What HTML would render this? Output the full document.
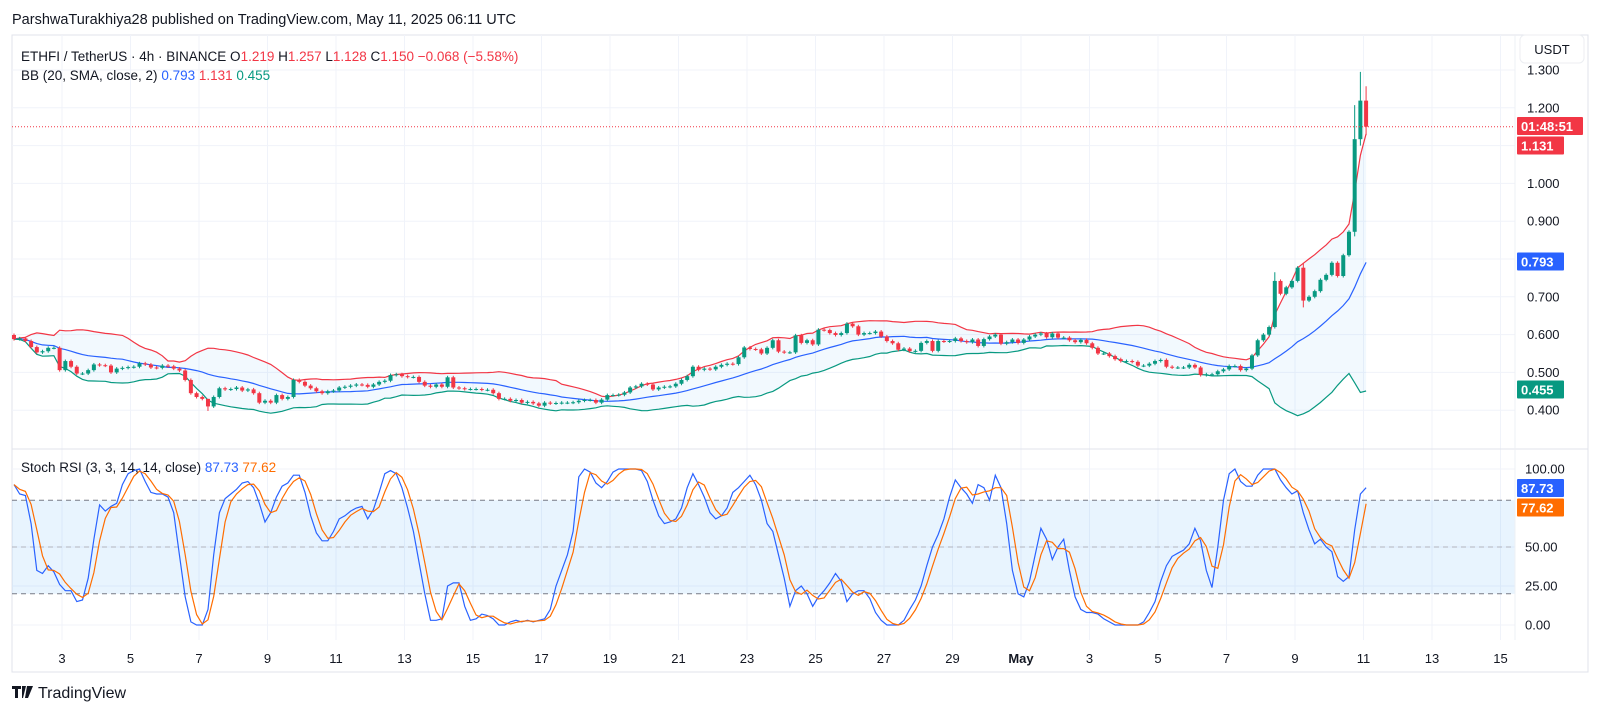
<!DOCTYPE html>
<html><head><meta charset="utf-8"><style>
html,body{margin:0;padding:0;background:#fff;}
svg{display:block;font-family:"Liberation Sans",sans-serif;}
</style></head><body>
<svg id="chart" width="1600" height="712" viewBox="0 0 1600 712" xmlns="http://www.w3.org/2000/svg">
<text x="12" y="24" font-size="14.5" fill="#131722">ParshwaTurakhiya28 published on TradingView.com, May 11, 2025 06:11 UTC</text>
<rect x="12" y="35" width="1576" height="637" fill="#fff" stroke="#e0e3eb"/>
<g id="grid"></g>
<g id="main"></g>
<g id="stoch"></g>
<line x1="12" y1="449" x2="1588" y2="449" stroke="#e0e3eb"/>
<line x1="1515" y1="35" x2="1515" y2="640" stroke="#eef0f4"/>
<g id="axes"></g>
<g font-size="13.5">
<text x="21" y="61"><tspan fill="#131722">ETHFI / TetherUS · 4h · BINANCE  O</tspan><tspan fill="#f23645">1.219</tspan><tspan fill="#131722">  H</tspan><tspan fill="#f23645">1.257</tspan><tspan fill="#131722">  L</tspan><tspan fill="#f23645">1.128</tspan><tspan fill="#131722">  C</tspan><tspan fill="#f23645">1.150  −0.068 (−5.58%)</tspan></text>
<text x="21" y="80"><tspan fill="#131722">BB (20, SMA, close, 2)  </tspan><tspan fill="#2962ff">0.793</tspan><tspan fill="#f23645">  1.131</tspan><tspan fill="#089981">  0.455</tspan></text>
<text x="21" y="472"><tspan fill="#131722">Stoch RSI (3, 3, 14, 14, close)  </tspan><tspan fill="#2962ff">87.73</tspan><tspan fill="#ff6d00">  77.62</tspan></text>
</g>
<g>
<rect x="1520" y="35" width="64" height="28" rx="5" fill="#fff" stroke="#eceef2"/>
<text x="1552" y="54" font-size="13" fill="#131722" text-anchor="middle">USDT</text>
</g>
<g>
<path d="M12 686h9v3h-3v9h-3v-9h-3z M22 686h4l-3 12h-1z M27 686h6l-5 12h-3z" fill="#131722"/>
<text x="38" y="698" font-size="16" fill="#131722">TradingView</text>
</g>
</svg>
<script>
const closes=[0.588,0.590,0.583,0.567,0.553,0.556,0.565,0.565,0.506,0.530,0.515,0.497,0.497,0.506,0.521,0.519,0.518,0.500,0.510,0.512,0.514,0.515,0.524,0.521,0.513,0.512,0.518,0.516,0.510,0.505,0.480,0.445,0.435,0.430,0.410,0.435,0.458,0.455,0.456,0.460,0.452,0.455,0.445,0.420,0.425,0.420,0.440,0.430,0.435,0.480,0.475,0.465,0.458,0.450,0.445,0.450,0.452,0.460,0.462,
0.465,0.468,0.467,0.462,0.468,0.475,0.478,0.493,0.495,0.490,0.488,0.488,0.475,0.465,0.462,0.468,0.462,0.487,0.460,0.458,0.456,0.456,0.456,0.454,0.454,0.445,0.430,0.430,0.425,0.427,0.420,0.422,0.418,0.412,0.420,0.418,0.419,0.420,0.420,0.421,0.425,0.427,0.427,0.420,0.428,0.440,0.440,0.441,0.447,0.460,0.463,0.470,0.468,0.455,0.460,0.462,0.463,0.470,0.480,0.490,
0.515,0.507,0.510,0.508,0.515,0.520,0.523,0.522,0.540,0.566,0.562,0.561,0.550,0.565,0.585,0.555,0.553,0.553,0.598,0.578,0.585,0.574,0.613,0.612,0.604,0.599,0.604,0.629,0.622,0.600,0.604,0.604,0.608,0.595,0.583,0.577,0.560,0.563,0.556,0.557,0.578,0.583,0.557,0.583,0.582,0.583,0.590,0.583,0.580,0.587,0.570,0.588,0.595,0.600,0.576,0.580,0.587,0.578,0.587,
0.595,0.600,0.603,0.593,0.603,0.592,0.592,0.585,0.580,0.586,0.577,0.565,0.550,0.550,0.543,0.535,0.530,0.530,0.528,0.518,0.518,0.523,0.530,0.533,0.515,0.513,0.513,0.513,0.520,0.513,0.493,0.495,0.495,0.503,0.508,0.517,0.517,0.506,0.510,0.545,0.585,0.600,0.620,0.742,0.708,0.725,0.742,0.777,0.690,0.700,0.715,0.745,0.758,0.790,0.755,0.810,0.872,1.117,1.219,1.150];
const firstOpen=0.599;
const highOverrides={34:0.398,221:0.765,226:0.790,235:1.207,236:1.295,237:1.257};
const lowOverrides={34:0.398,226:0.672,235:0.86,236:1.10,237:1.128};
const stochK=[90,84,83,65,35,33,38,34,26,22,22,15,16,30,55,77,73,76,78,90,97,99,100,92,85,84,84,82,72,45,18,2,0,0,10,45,72,81,84,87,91,92,88,78,66,72,82,89,91,96,96,85,70,59,54,54,60,68,70,73,75,76,68,74,85,97,99,97,88,75,60,40,20,3,3,4,25,27,27,12,3,4,7,6,4,0,0,
2,3,2,3,2,3,4,10,25,35,45,60,95,100,98,91,88,92,98,100,100,100,100,99,92,80,70,65,66,68,75,88,97,90,82,72,68,70,75,85,88,92,96,90,80,65,60,45,30,12,22,25,20,12,18,22,27,33,28,15,20,22,22,17,8,3,0,0,0,3,10,16,25,38,50,58,68,82,93,88,84,78,90,88,80,96,88,65,35,20,18,28,45,62,55,42,50,55,35,18,10,8,8,7,4,2,0,0,0,0,0,2,8,15,28,38,44,46,48,52,62,54,35,24,50,80,97,100,92,89,89,96,100,100,100,93,88,84,86,72,61,52,55,50,47,31,28,31,61,84,88];
const priceTicks=[1.3,1.2,1.1,1.0,0.9,0.8,0.7,0.6,0.5,0.4];
const priceTickLabels=["1.300","1.200","","1.000","0.900","","0.700","0.600","0.500","0.400"];
const stochTicks=[100,75,50,25,0];
const stochTickLabels=["100.00","","50.00","25.00","0.00"];
const dateLabels=["3","5","7","9","11","13","15","17","19","21","23","25","27","29","May","3","5","7","9","11","13","15"];

const NS="http://www.w3.org/2000/svg";
function el(tag,attrs,parent){const e=document.createElementNS(NS,tag);for(const k in attrs)e.setAttribute(k,attrs[k]);parent.appendChild(e);return e;}
const xC=i=>14+5.705*i;
const yP=p=>70+(1.3-p)*378;
const yS=v=>625-v*1.56;
const xD=k=>62+k*68.5;
const grid=document.getElementById('grid'),main=document.getElementById('main'),st=document.getElementById('stoch'),axes=document.getElementById('axes');

// grid
dateLabels.forEach((d,k)=>{
  const l=el('line',{x1:xD(k),x2:xD(k),y1:35,y2:640,stroke:'#f0f3fa'},grid);
  
  
  const t=el('text',{x:xD(k),y:663,'font-size':13,fill:'#131722','text-anchor':'middle','font-weight':d==='May'?'bold':'normal'},axes);
  t.textContent=d;
  
  
});
priceTicks.forEach((p,k)=>{
  const l=el('line',{x1:12,x2:1515,y1:yP(p),y2:yP(p),stroke:'#f0f3fa'},grid);
  
  
  if(priceTickLabels[k]){
    const t=el('text',{x:1527,y:yP(p)+4.5,'font-size':13,fill:'#131722'},axes);
    t.textContent=priceTickLabels[k];
    
    
  }
});
stochTicks.forEach((v,k)=>{
  if(v!==75){const l=el('line',{x1:12,x2:1515,y1:yS(v),y2:yS(v),stroke:'#f0f3fa'},grid);
  
  }
  if(stochTickLabels[k]){
    const t=el('text',{x:1525,y:yS(v)+4.5,'font-size':13,fill:'#131722'},axes);
    t.textContent=stochTickLabels[k];
    
    
  }
});

// Bollinger bands
const N=closes.length,basis=[],upper=[],lower=[];
for(let i=0;i<N;i++){
  const s=closes.slice(Math.max(0,i-19),i+1);
  const m=s.reduce((a,b)=>a+b,0)/s.length;
  const sd=Math.sqrt(s.reduce((a,b)=>a+(b-m)*(b-m),0)/s.length);
  basis.push(m);upper.push(m+2*sd);lower.push(m-2*sd);
}
const pts=(arr,fy)=>arr.map((v,i)=>xC(i).toFixed(1)+','+fy(v).toFixed(1));
const fill=el('polygon',{points:pts(upper,yP).concat(pts(lower,yP).reverse()).join(' '),fill:'rgba(33,150,243,0.06)'},main);


[[upper,'#f23645','bb-upper'],[basis,'#2962ff','bb-basis'],[lower,'#089981','bb-lower']].forEach(([a,c,n])=>{
  const l=el('polyline',{points:pts(a,yP).join(' '),fill:'none',stroke:c,'stroke-width':1.2},main);
  
  
});
// candles
for(let i=0;i<N;i++){
  const o=i===0?firstOpen:closes[i-1],c=closes[i];
  const up=c>=o,col=up?'#089981':'#f23645';
  const hi=highOverrides[i]!==undefined?Math.max(highOverrides[i],o,c):Math.max(o,c)+0.004;
  const lo=lowOverrides[i]!==undefined?Math.min(lowOverrides[i],o,c):Math.min(o,c)-0.004;
  const g=el('g',{},main);
  
  
  el('line',{x1:xC(i),x2:xC(i),y1:yP(hi),y2:yP(lo),stroke:col,'stroke-width':1},g);
  const top=yP(Math.max(o,c)),h=Math.max(1,yP(Math.min(o,c))-top);
  el('rect',{x:xC(i)-2,y:top,width:4,height:h,fill:col},g);
}
// last price line
const lp=el('line',{x1:12,x2:1515,y1:yP(closes[N-1]),y2:yP(closes[N-1]),stroke:'#f23645','stroke-width':1,'stroke-dasharray':'1 2'},main);



// stoch
const stochD=stochK.map((v,i)=>{const s=stochK.slice(Math.max(0,i-2),i+1);return s.reduce((a,b)=>a+b,0)/s.length;});
const band=el('rect',{x:12,y:yS(80),width:1503,height:yS(20)-yS(80),fill:'rgba(33,150,243,0.1)'},st);


[[80,'#787b86','5 4'],[50,'#b2b5be','5 4'],[20,'#787b86','5 4']].forEach(([v,c,d])=>{
  const l=el('line',{x1:12,x2:1515,y1:yS(v),y2:yS(v),stroke:c,'stroke-dasharray':d},st);
  
  
});
const kl=el('polyline',{points:pts(stochK,yS).join(' '),fill:'none',stroke:'#2962ff','stroke-width':1.2},st);


const dl=el('polyline',{points:pts(stochD,yS).join(' '),fill:'none',stroke:'#ff6d00','stroke-width':1.2},st);



// value labels
function tag(y,w,col,txt,name){
  const g=el('g',{},axes);
  
  
  el('rect',{x:1517,y:y-9,width:w,height:18,fill:col,rx:1},g);
  const t=el('text',{x:1521,y:y+5,'font-size':13,fill:'#fff','font-weight':'bold'},g);
  t.textContent=txt;
}
tag(126,66,'#f23645','01:48:51','countdown-label');
tag(145.5,47,'#f23645',upper[N-1]>0?'1.131':'','bb-upper-label');
tag(261.5,47,'#2962ff','0.793','bb-basis-label');
tag(389.5,47,'#089981','0.455','bb-lower-label');
tag(488,47,'#2962ff','87.73','stoch-k-label');
tag(507.5,47,'#ff6d00','77.62','stoch-d-label');
</script>
</body></html>
